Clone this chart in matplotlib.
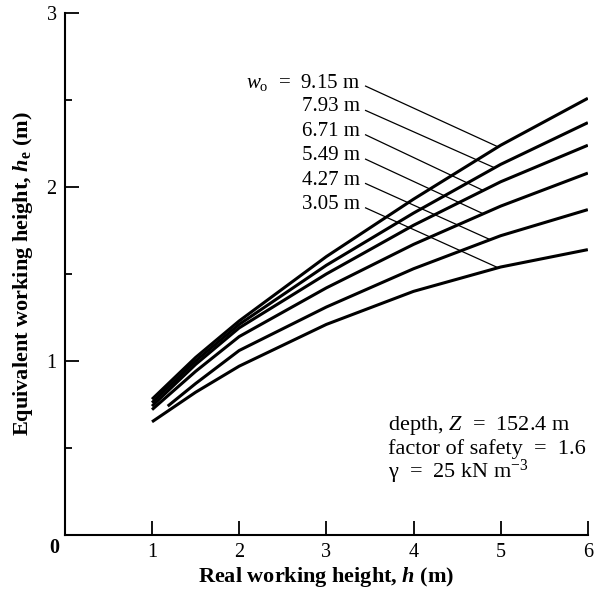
import matplotlib
matplotlib.use('Agg')
import matplotlib as mpl
import matplotlib.pyplot as plt
import numpy as np

mpl.rcParams['font.family'] = 'Liberation Serif'
mpl.rcParams['mathtext.fontset'] = 'custom'
mpl.rcParams['mathtext.rm'] = 'Liberation Serif'
mpl.rcParams['mathtext.it'] = 'Liberation Serif:italic'
mpl.rcParams['mathtext.bf'] = 'Liberation Serif:bold'
mpl.rcParams['mathtext.bfit'] = 'Liberation Serif:italic:bold'

# room widths w_o (m) and read-off curves he(h)
widths = ['9.15', '7.93', '6.71', '5.49', '4.27', '3.05']
h_9_15 = [1.0, 1.5, 2, 3, 4, 5, 6]
he_9_15 = [0.78, 1.02, 1.23, 1.60, 1.93, 2.24, 2.51]
h_7_93 = [1.0, 1.5, 2, 3, 4, 5, 6]
he_7_93 = [0.76, 1.00, 1.21, 1.55, 1.85, 2.13, 2.37]
h_6_71 = [1.0, 1.5, 2, 3, 4, 5, 6]
he_6_71 = [0.74, 0.98, 1.19, 1.50, 1.78, 2.03, 2.24]
h_5_49 = [1.0, 1.5, 2, 3, 4, 5, 6]
he_5_49 = [0.72, 0.94, 1.14, 1.42, 1.67, 1.89, 2.08]
h_4_27 = [1.18, 1.5, 2, 3, 4, 5, 6]
he_4_27 = [0.74, 0.87, 1.06, 1.31, 1.53, 1.72, 1.87]
h_3_05 = [1.0, 1.5, 2, 3, 4, 5, 6]
he_3_05 = [0.65, 0.82, 0.97, 1.21, 1.40, 1.54, 1.64]

curves_h = [h_9_15, h_7_93, h_6_71, h_5_49, h_4_27, h_3_05]
curves_he = [he_9_15, he_7_93, he_6_71, he_5_49, he_4_27, he_3_05]

# where each label's leader line meets its curve (h value)
leader_h = [4.97, 4.93, 4.8, 4.8, 4.88, 4.97]
label_y = [2.60, 2.46, 2.32, 2.18, 2.04, 1.90]

fig = plt.figure(figsize=(5.95, 5.93), dpi=100)
ax = fig.add_axes([0.109, 0.098, 0.879, 0.880])

for h, he in zip(curves_h, curves_he):
    ax.plot(h, he, color='k', lw=2.2, solid_capstyle='butt', solid_joinstyle='round')

for i, w in enumerate(widths):
    if i == 0:
        txt = r'$w_{\rm o}$  =  ' + w + ' m'
    else:
        txt = w + ' m'
    ax.text(3.39, label_y[i], txt, ha='right', va='center', fontsize=15)
    xe = leader_h[i]
    ye = np.interp(xe, curves_h[i], curves_he[i])
    ax.plot([3.45, xe], [label_y[i] - 0.02, ye], color='k', lw=0.9)

ax.text(3.71, 0.63, r'depth, $Z$  =  152.4 m', ha='left', va='center', fontsize=16)
ax.text(3.71, 0.495, 'factor of safety  =  1.6', ha='left', va='center', fontsize=16)
ax.text(3.71, 0.36, r'γ  =  25 kN m$^{-3}$', ha='left', va='center', fontsize=16)

ax.set_xlim(0, 6)
ax.set_ylim(0, 3)
ax.spines['top'].set_visible(False)
ax.spines['right'].set_visible(False)
ax.spines['left'].set_linewidth(1.5)
ax.spines['bottom'].set_linewidth(1.5)

ax.set_xticks([1, 2, 3, 4, 5, 6])
ax.set_yticks([1, 2, 3])
ax.set_yticks([0.5, 1.5, 2.5], minor=True)
ax.tick_params(axis='both', which='major', direction='in', length=10, width=1.3,
               labelsize=14.5, pad=6)
ax.tick_params(axis='y', which='minor', direction='in', length=5, width=1.3)
ax.text(-0.07, -0.075, '0', ha='right', va='center', fontsize=14.5, fontweight='bold')

ax.set_xlabel(r'Real working height, $\mathbfit{h}$ (m)', fontsize=16, fontweight='bold', labelpad=2)
ax.set_ylabel(r'Equivalent working height, $\mathbfit{h}_{\mathbf{e}}$ (m)', fontsize=16,
              fontweight='bold', labelpad=8)

fig.savefig('out.png', dpi=100)
